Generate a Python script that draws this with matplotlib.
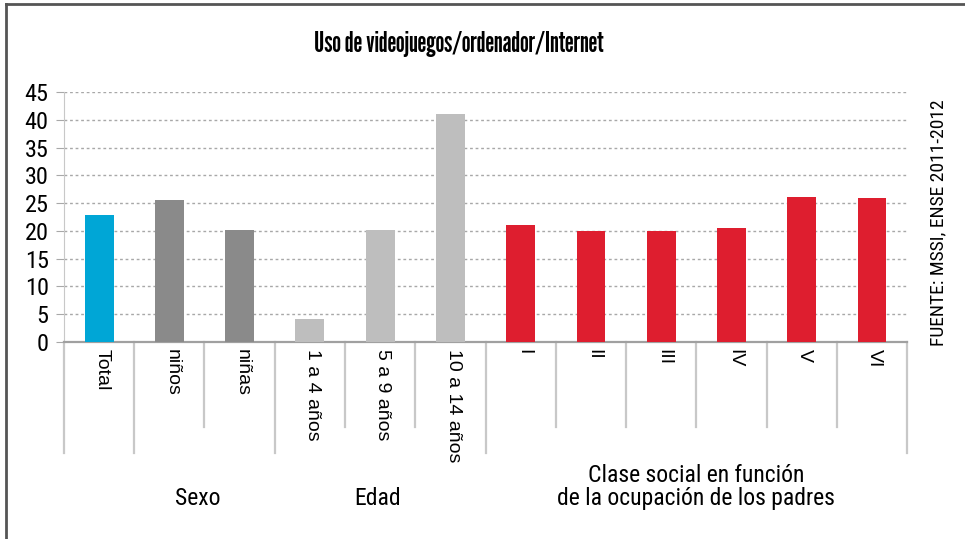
import matplotlib.pyplot as plt
from matplotlib.lines import Line2D
import numpy as np

# Datos (porcentaje de uso)
categorias = ["Total", "niños", "niñas", "1 a 4 años", "5 a 9 años", "10 a 14 años",
              "I", "II", "III", "IV", "V", "VI"]
valores = [22.9, 25.5, 20.1, 4.1, 20.1, 41.1, 21.0, 20.0, 20.0, 20.5, 26.1, 25.9]
grupo = ["Total", "Sexo", "Sexo", "Edad", "Edad", "Edad",
         "Clase", "Clase", "Clase", "Clase", "Clase", "Clase"]
titulos_grupo = {"Sexo": "Sexo", "Edad": "Edad",
                 "Clase": "Clase social en función\nde la ocupación de los padres"}

colores = {"Total": "#00A6D6", "Sexo": "#8A8A8A", "Edad": "#BEBEBE", "Clase": "#DE1E2F"}
condensada = ["Roboto Condensed", "DejaVu Sans"]
titulo_fuente = ["League Gothic", "DejaVu Sans"]

fig = plt.figure(figsize=(9.65, 5.39), dpi=100)
ax = fig.add_axes([0.0663, 0.3655, 0.8737, 0.4637])

x = np.arange(len(categorias))
ax.bar(x, valores, width=0.41, color=[colores[g] for g in grupo], zorder=3)

ax.set_xlim(-0.5, len(categorias) - 0.5)
ax.set_ylim(0, 45)
ax.set_yticks(np.arange(0, 46, 5))
ax.set_xticks([])
ax.grid(axis="y", color="#a8a8a8", linestyle=(0, (2, 2)), linewidth=1.0, zorder=0)
ax.tick_params(axis="y", length=6, color="#a8a8a8", pad=5)
for lab in ax.get_yticklabels():
    lab.set_family(condensada)
    lab.set_fontsize(17.5)
for s in ["top", "right"]:
    ax.spines[s].set_visible(False)
ax.spines["left"].set_color("#c8c8c8")
ax.spines["bottom"].set_color("#a0a0a0")
ax.spines["bottom"].set_linewidth(1.6)

# etiquetas de categoria giradas
trans = ax.get_xaxis_transform()
for i, c in enumerate(categorias):
    ax.text(i + 0.04, -0.03, c, rotation=270, ha="center", va="top", fontsize=14,
            family=["Liberation Sans", "DejaVu Sans"], transform=trans)

# lineas separadoras bajo el eje
for b in range(len(categorias) + 1):
    largo = b == 0 or b == len(categorias) or grupo[b] != grupo[b - 1]
    y_fin = -0.444 if largo else -0.34
    ax.add_line(Line2D([b - 0.5, b - 0.5], [0, y_fin], transform=trans,
                       color="#c8c8c8", linewidth=1.6, clip_on=False))

# nombres de los grupos
pos_grupo = {"Sexo": (1.41, -0.625), "Edad": (3.97, -0.625), "Clase": (8.5, -0.58)}
for g, (px, py) in pos_grupo.items():
    ax.text(px, py, titulos_grupo[g], ha="center", va="center", fontsize=17,
            family=condensada, transform=trans, linespacing=0.95)

fig.text(0.475, 0.918, "Uso de videojuegos/ordenador/Internet", ha="center", va="center",
         fontsize=20, family=titulo_fuente)
fig.text(0.972, 0.586, "FUENTE: MSSI, ENSE 2011-2012", rotation=90, ha="center",
         va="center", fontsize=14, family=condensada)

# marco
fig.add_artist(Line2D([0.0062, 1.0], [0.9926, 0.9926], color="#555555", linewidth=2))
fig.add_artist(Line2D([0.0062, 0.0062], [0.0, 0.9926], color="#555555", linewidth=2))

fig.savefig("out.png", dpi=100, facecolor="white")
